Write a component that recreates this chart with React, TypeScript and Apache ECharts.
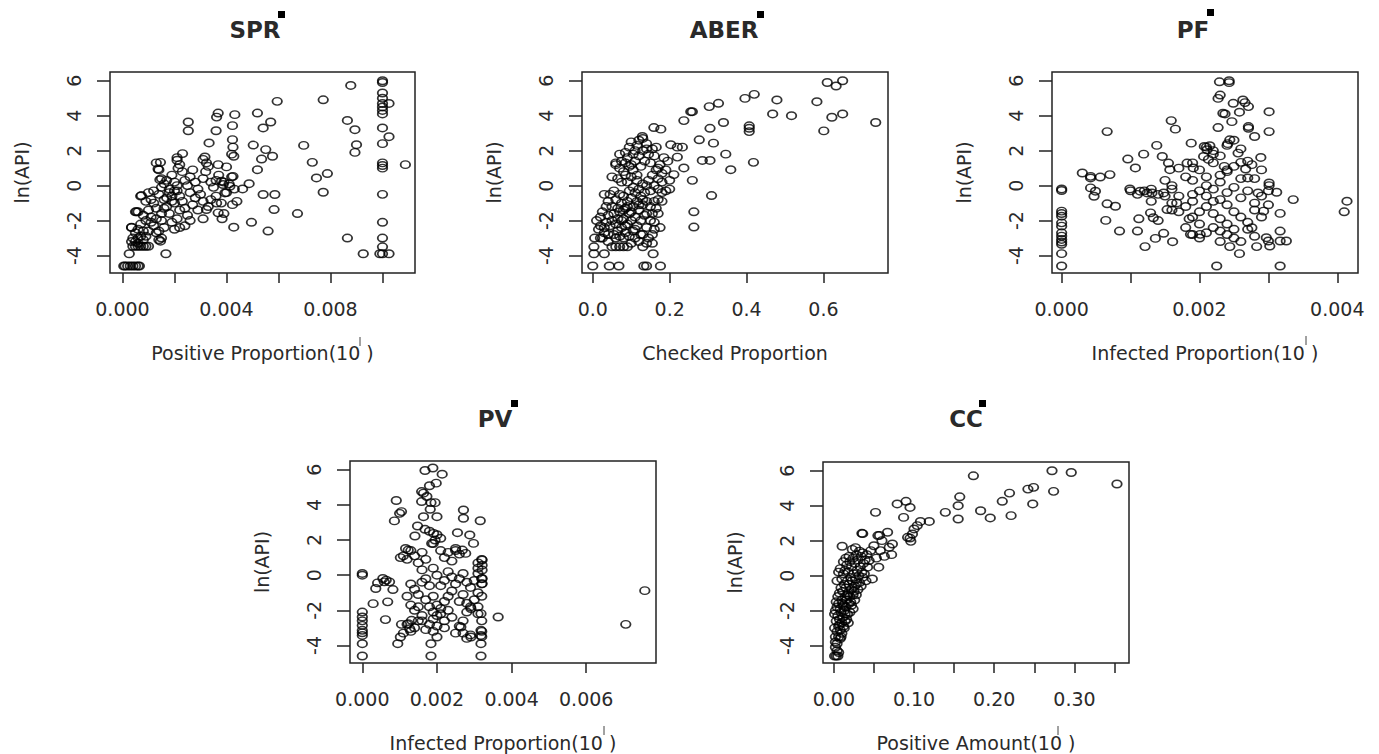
import React, { useEffect, useRef } from 'react';
import * as echarts from 'echarts';

const FONT = '"DejaVu Sans", "Liberation Sans", sans-serif';

const titles = ['SPR', 'ABER', 'PF', 'PV', 'CC'];
const xAxisTitles = [
  'Positive Proportion(10 )',
  'Checked Proportion',
  'Infected Proportion(10 )',
  'Infected Proportion(10 )',
  'Positive Amount(10 )',
];
const yAxisTitle = 'ln(API)';
const yTicks = [-4, -2, 0, 2, 4, 6];
const xTicks = [
  [0, 0.002, 0.004, 0.006, 0.008, 0.01],
  [0, 0.2, 0.4, 0.6],
  [0, 0.001, 0.002, 0.003, 0.004],
  [0, 0.002, 0.004, 0.006],
  [0, 0.05, 0.1, 0.15, 0.2, 0.25, 0.3, 0.35],
];
const xTickLabels = [
  [0, 0.004, 0.008],
  [0, 0.2, 0.4, 0.6],
  [0, 0.002, 0.004],
  [0, 0.002, 0.004, 0.006],
  [0, 0.1, 0.2, 0.3],
];
const xDecimals = [3, 1, 3, 3, 2];

const sprData = [
  [0.01, 6.0], [0.01, 5.9], [0.01, 5.3], [0.01, 5.0], [0.01, 4.7], [0.01, 4.5], [0.01, 4.3], [0.01, 4.1],
  [0.01, 3.3], [0.01, 2.4], [0.01, 1.3], [0.01, 1.15], [0.01, 1.0], [0.01, -0.5], [0.01, -2.1], [0.01, -3.0],
  [0.01, -3.5], [0.01, -3.9], [0.01025, 4.7], [0.01025, 2.8], [0.01025, -3.9], [0.0099, -3.9],
  [0.01088, 1.2], [0.00878, 5.73], [0.00865, 3.73], [0.00894, 3.2], [0.009, 2.34], [0.00894, 1.9],
  [0.00865, -3.0], [0.00926, -3.9], [0.00772, 4.91], [0.00697, 2.3], [0.0073, 1.33], [0.00746, 0.44],
  [0.00788, 0.69], [0.00772, -0.38], [0.00673, -1.6],
  [0.00595, 4.82], [0.00519, 4.15], [0.0057, 3.64], [0.00541, 3.3], [0.00503, 2.32], [0.00551, 2.06],
  [0.00577, 1.68], [0.00535, 1.52], [0.00519, 0.91], [0.00487, 0.11], [0.00462, -0.19], [0.00541, -0.51],
  [0.00586, -0.51], [0.00583, -1.37], [0.00496, -2.1], [0.0056, -2.6],
  [0.00432, 4.06], [0.00423, 3.43], [0.00423, 2.63], [0.00425, 2.2], [0.00428, 1.68], [0.0042, 1.8],
  [0.00425, 0.53], [0.00423, -1.09], [0.00428, -2.38],
  [0.00368, 4.15], [0.00362, 3.92], [0.0036, 3.14], [0.00333, 2.44], [0.00317, 1.64], [0.00323, 1.3],
  [0.00368, 1.2], [0.004, 1.07], [0.00381, 0.25], [0.00387, 0.06], [0.00413, -0.04], [0.00394, -0.42],
  [0.00362, -1.0], [0.00368, -1.56], [0.00383, -1.9], [0.0031, -1.9], [0.00323, -1.37],
  [0.00253, 3.64], [0.00253, 3.14], [0.00231, 1.83], [0.0021, 1.45], [0.00146, 1.33], [0.00137, 0.95],
  [0.00214, 1.0], [0.00144, 0.34], [0.00073, -0.57], [0.00054, -1.5], [0.00035, -2.38], [0.00026, -3.9],
  [0.00167, -3.9], [0.00146, -3.18],
  [0.0001, -4.6], [0.0002, -4.6], [0.0003, -4.6], [0.0004, -4.6], [0.0005, -4.6], [0.0006, -4.6], [0.00065, -4.6], [0.00005, -4.6],
  [0.0004, -3.47], [0.0005, -3.47], [0.0006, -3.47], [0.0007, -3.47], [0.0008, -3.47], [0.0009, -3.47], [0.001, -3.47],
  [0.00035, -3.2], [0.0004, -3.0], [0.0005, -3.2], [0.0006, -3.0], [0.0007, -2.9], [0.0005, -2.7], [0.00035, -2.4],
  [0.0006, -2.5], [0.0008, -2.6], [0.0007, -2.2], [0.0009, -2.0], [0.0006, -1.5], [0.0005, -1.5], [0.0008, -1.7],
  [0.001, -1.4], [0.0011, -1.8], [0.0012, -2.3], [0.0013, -2.7], [0.0014, -3.1], [0.0015, -3.0], [0.0014, -2.6],
  [0.0016, -2.4], [0.0015, -2.0], [0.0013, -1.3], [0.0012, -1.0], [0.0011, -0.8], [0.0009, -0.9], [0.0007, -0.6],
  [0.001, -0.4], [0.0012, -0.3], [0.0014, -0.5], [0.0016, -0.8], [0.0017, -1.2], [0.0018, -1.6], [0.0019, -2.1],
  [0.002, -2.5], [0.0021, -1.9], [0.0022, -1.4], [0.002, -1.0], [0.0019, -0.6], [0.0018, -0.2], [0.0016, 0.1],
  [0.0015, 0.4], [0.0014, 0.9], [0.0013, 1.3], [0.0015, -0.1], [0.0017, 0.3], [0.0019, 0.6], [0.002, 0.2],
  [0.0021, -0.3], [0.0022, -0.6], [0.0023, -0.9], [0.0024, -1.3], [0.0025, -1.7], [0.0026, -2.0], [0.0024, -2.3],
  [0.0022, -2.4], [0.0027, -1.1], [0.0028, -0.7], [0.0026, -0.4], [0.0025, 0.0], [0.0024, 0.3], [0.0023, 0.8],
  [0.0022, 1.2], [0.0021, 1.6], [0.0026, 0.5], [0.0027, 0.9], [0.0028, 0.2], [0.0029, -0.2], [0.003, -0.5],
  [0.0031, -0.9], [0.0029, -1.4], [0.0031, 0.4], [0.0032, 0.8], [0.0033, 1.1], [0.0031, 1.5], [0.0034, 0.2],
  [0.0035, -0.1], [0.0036, 0.3], [0.0037, 0.6], [0.0036, -0.6], [0.0034, -0.8], [0.0033, -1.2], [0.0038, -1.0],
  [0.0039, -1.6], [0.004, -0.4], [0.0041, 0.1], [0.0042, 0.5], [0.0043, -0.2], [0.0044, -0.9], [0.0039, 0.2],
  [0.0018, -0.4], [0.0019, -0.9], [0.002, -0.3], [0.0021, 0.0], [0.0017, -0.7], [0.0016, -1.3], [0.0015, -1.6],
  [0.0013, -1.9], [0.0011, -2.1], [0.001, -2.6], [0.0009, -2.9], [0.0008, -3.1], [0.0006, -3.3],
];

const aberData = [
  [0.61, 5.9], [0.633, 5.7], [0.65, 6.0], [0.583, 4.8], [0.622, 3.91], [0.65, 4.1], [0.601, 3.13], [0.736, 3.61],
  [0.42, 5.22], [0.396, 4.99], [0.479, 4.9], [0.468, 4.1], [0.517, 4.0], [0.407, 3.42], [0.407, 3.28], [0.407, 3.09],
  [0.418, 1.33], [0.327, 4.71], [0.303, 4.52], [0.259, 4.23], [0.255, 4.23], [0.237, 3.72], [0.34, 3.61],
  [0.305, 3.28], [0.277, 2.62], [0.314, 2.43], [0.346, 1.8], [0.359, 0.91], [0.285, 1.44], [0.305, 1.44],
  [0.259, 0.3], [0.263, -1.5], [0.263, -2.37], [0.309, -0.57], [0.237, 1.01], [0.211, 0.63], [0.22, 1.63],
  [0.233, 2.2], [0.203, 2.34], [0.22, 2.2], [0.159, 3.32], [0.177, 3.23], [0.129, 2.81],
  [0.0, -4.6], [0.043, -4.6], [0.068, -4.6], [0.133, -4.6], [0.14, -4.6], [0.176, -4.6],
  [0.003, -3.9], [0.03, -3.9], [0.157, -3.9], [0.005, -3.0], [0.02, -3.0], [0.003, -3.5], [0.01, -2.0],
  [0.02, -1.8], [0.015, -2.5], [0.03, -2.7], [0.04, -3.2], [0.05, -3.5], [0.06, -3.5], [0.07, -3.5], [0.08, -3.5],
  [0.09, -3.5], [0.1, -3.3], [0.11, -3.0], [0.12, -3.2], [0.13, -2.8], [0.145, -3.0], [0.155, -2.8], [0.16, -2.5],
  [0.15, -2.0], [0.14, -1.6], [0.165, -1.3], [0.17, -0.8], [0.18, -0.4], [0.19, -0.3], [0.2, 0.3], [0.2, -0.2],
  [0.025, -1.5], [0.035, -2.1], [0.04, -1.7], [0.045, -2.3], [0.05, -2.0], [0.055, -1.6], [0.06, -2.2],
  [0.065, -2.6], [0.07, -2.9], [0.075, -2.4], [0.08, -1.9], [0.085, -2.7], [0.09, -2.2], [0.095, -1.6], [0.1, -2.0],
  [0.105, -2.6], [0.11, -1.8], [0.115, -2.3], [0.12, -1.4], [0.125, -2.0], [0.13, -1.1], [0.135, -1.7],
  [0.05, -1.2], [0.06, -0.8], [0.065, -1.3], [0.07, -0.5], [0.075, -1.0], [0.08, -0.6], [0.085, -1.3], [0.09, -0.9],
  [0.095, -0.3], [0.1, -0.7], [0.105, -1.2], [0.11, -0.4], [0.115, -0.9], [0.12, -0.2], [0.125, -0.6], [0.13, 0.1],
  [0.135, -0.4], [0.14, -0.9], [0.145, 0.3], [0.15, -0.3], [0.155, 0.6], [0.16, 0.0], [0.165, 0.9], [0.17, 0.4],
  [0.175, 1.2], [0.18, 0.7], [0.185, 1.6], [0.09, 0.2], [0.1, 0.5], [0.08, 0.8], [0.07, 1.0], [0.06, 1.2],
  [0.065, 0.4], [0.075, 0.2], [0.085, 0.6], [0.095, 1.1], [0.105, 0.9], [0.11, 1.4], [0.115, 0.3], [0.12, 1.7],
  [0.125, 1.1], [0.13, 2.0], [0.135, 1.4], [0.14, 2.4], [0.145, 1.8], [0.15, 1.3], [0.155, 2.1], [0.16, 1.7],
  [0.165, 2.2], [0.17, 1.0], [0.11, 2.0], [0.1, 2.5], [0.105, 1.8], [0.09, 1.6], [0.055, -0.3], [0.045, -0.5],
  [0.04, -0.9], [0.05, 0.5], [0.03, -0.5], [0.035, -1.2], [0.02, -2.3], [0.03, -2.4], [0.025, -3.0], [0.04, -2.8],
  [0.055, -2.8], [0.06, -3.0], [0.08, -3.0], [0.095, -2.9], [0.11, -2.5], [0.125, -2.8], [0.14, -2.4], [0.15, -1.2],
  [0.16, -0.9], [0.17, -0.2], [0.18, 0.2], [0.19, 0.9], [0.195, 1.4], [0.12, -1.1], [0.1, -1.5], [0.07, -1.5],
  [0.075, -2.0], [0.065, -1.9], [0.085, -2.3], [0.09, -1.2], [0.08, -1.4], [0.105, -0.1], [0.115, 0.6],
  [0.13, -0.8], [0.14, 0.0], [0.1, 1.2], [0.085, 1.3], [0.07, 1.8], [0.06, 1.3], [0.075, 1.4], [0.155, -1.6],
  [0.16, -2.1], [0.155, -3.3], [0.14, -3.3], [0.13, -3.5], [0.17, -1.6], [0.175, -2.4], [0.18, -0.9],
  [0.115, 2.3], [0.12, 2.6], [0.13, 2.7], [0.14, 2.1], [0.095, 2.2], [0.085, 1.9],
];

const pfData = [
  [0, -0.19], [0, -0.28], [0, -1.46], [0, -1.6], [0, -1.75], [0, -2.13], [0, -2.32], [0, -2.7], [0, -2.89],
  [0, -3.08], [0, -3.23], [0, -3.36], [0, -3.89], [0, -4.6],
  [0.0003, 0.72], [0.00042, 0.53], [0.00042, 0.44], [0.00042, -0.13], [0.00047, -0.61], [0.00049, -0.32],
  [0.00056, 0.49], [0.0007, 0.63], [0.00066, 3.09], [0.00066, -1.04], [0.00078, -1.18], [0.00064, -1.99],
  [0.00084, -2.6], [0.00096, 1.52], [0.00107, 1.01], [0.00099, -0.19], [0.00119, 1.8], [0.00112, -1.9],
  [0.0011, -2.6], [0.00121, -3.49], [0.00114, -0.32], [0.00124, -0.42], [0.00131, -0.42], [0.00129, -1.56],
  [0.00133, -1.84], [0.00138, 2.3], [0.00146, 1.67], [0.00155, 1.29], [0.00157, 0.91], [0.00159, 3.72],
  [0.00165, 3.23], [0.00136, -3.02], [0.00148, -2.73], [0.00161, -3.21], [0.00148, -0.42], [0.00153, -1.37],
  [0.0016, 0], [0.00188, 2.43], [0.00182, 1.29], [0.00191, 1.01], [0.00187, -2.79], [0.00201, -2.79],
  [0.00185, -1.9], [0.00167, -0.99],
  [0.00229, 5.94], [0.00243, 6.0], [0.00243, 5.89], [0.0023, 5.18], [0.00227, 4.99], [0.00234, 4.14],
  [0.00237, 4.1], [0.00249, 4.71], [0.00247, 3.66], [0.00258, 4.2], [0.00263, 4.9], [0.00266, 4.75],
  [0.00271, 4.52], [0.00271, 3.38], [0.00271, 3.28], [0.0028, 2.81], [0.00227, 3.32],
  [0.00301, 4.23], [0.00301, 3.09], [0.00301, 0.15], [0.00301, 0], [0.00312, -0.38], [0.00336, -0.8],
  [0.00317, -1.59], [0.00317, -2.6], [0.00297, -2.98], [0.003, -3.17], [0.00302, -3.46], [0.00317, -3.17],
  [0.00326, -3.17], [0.00317, -4.6], [0.00225, -4.6], [0.00258, -3.89], [0.00244, -3.49], [0.00283, -3.49],
  [0.00289, 1.61], [0.00276, 1.2], [0.0027, 0.44], [0.0026, 1.33], [0.00276, -2.41], [0.00293, -1.46],
  [0.00285, -0.42], [0.00414, -0.89], [0.0041, -1.5],
  [0.00215, 2.28], [0.00207, 2.24], [0.00211, 2.05], [0.00244, 2.62], [0.00241, 2.4], [0.00206, 1.67],
  [0.00213, 1.5], [0.0022, 1.8], [0.00236, 1.1], [0.0024, 0.9], [0.00256, 1.86], [0.00267, 0.95],
  [0.0019, -0.5], [0.002, -0.3], [0.0021, -0.6], [0.0022, -0.2], [0.0023, -0.8], [0.0024, -0.4], [0.0025, -0.1],
  [0.0026, -0.7], [0.0027, -0.3], [0.0028, -1.0], [0.0019, 0.3], [0.002, 0.9], [0.0021, 0.5], [0.0022, 1.3],
  [0.0023, 0.2], [0.0024, 0.8], [0.0025, 1.1], [0.0026, 0.4], [0.0027, 1.4], [0.0021, 2.2], [0.0022, 2.0],
  [0.0023, 1.7], [0.0024, 2.3], [0.0025, 2.6], [0.0026, 2.1], [0.0021, -1.2], [0.0022, -1.6], [0.0023, -1.9],
  [0.0024, -2.2], [0.0025, -1.5], [0.0026, -1.8], [0.0027, -2.1], [0.0022, -2.4], [0.0023, -2.6], [0.0024, -2.8],
  [0.0025, -2.5], [0.0021, -2.7], [0.002, -2.2], [0.0019, -1.8], [0.0018, -1.2], [0.0017, -0.6], [0.0016, -0.2],
  [0.0015, 0.3], [0.0016, -1.0], [0.0017, -1.5], [0.0018, 0.5], [0.0017, 1.0], [0.0019, 1.3], [0.0014, -0.5],
  [0.0013, -0.9], [0.0012, -0.3], [0.0011, -0.5], [0.001, -0.3], [0.0013, -0.2], [0.0015, -0.6], [0.0016, -1.4],
  [0.0014, -2.0], [0.0018, -2.4], [0.0019, -2.8], [0.002, -1.5], [0.0028, -1.4], [0.0029, -0.6], [0.003, -1.1],
  [0.0029, -1.8], [0.003, -0.3], [0.0028, 0.4], [0.0029, 0.9], [0.0027, -2.5], [0.0028, -2.9], [0.0026, -3.2],
  [0.0025, -3.0], [0.0023, -3.2], [0.002, -3.0], [0.0019, -0.9], [0.0024, -1.1], [0.0022, -0.9], [0.0023, 0.6],
  [0.0021, 0.0],
];

const pvData = [
  [0, 0.1], [0, 0], [0, -2.1], [0, -2.38], [0, -2.6], [0, -2.86], [0, -3.14], [0, -3.28], [0, -3.43], [0, -3.9], [0, -4.6],
  [0.00041, -0.44], [0.00059, -0.38], [0.00055, -0.19], [0.00073, -0.38], [0.00064, -0.28], [0.00082, -0.82],
  [0.00036, -0.76], [0.00029, -1.62], [0.00068, -1.52], [0.00062, -2.53], [0.00105, -2.8], [0.00095, -3.9],
  [0.00102, -3.52], [0.00091, 4.25], [0.00105, 3.62], [0.001, 3.52], [0.00086, 3.09], [0.00102, 1.0],
  [0.00116, 1.52], [0.00123, 1.43],
  [0.00168, 5.96], [0.00189, 6.1], [0.00214, 5.75], [0.00198, 5.24], [0.0018, 5.09], [0.00159, 4.76],
  [0.00164, 4.67], [0.00159, 4.19], [0.00173, 4.48], [0.00184, 4.13], [0.00195, 4.13], [0.00182, 3.75],
  [0.002, 3.33], [0.00164, 3.33], [0.00148, 2.8], [0.00168, 2.61], [0.00141, 2.23], [0.00191, 2.38],
  [0.00195, 2.0], [0.00186, 1.81],
  [0.00255, 2.42], [0.00271, 3.71], [0.00271, 3.24], [0.00316, 3.1], [0.00288, 2.29], [0.00298, 1.81],
  [0.0025, 1.52], [0.00268, 1.43], [0.00277, 1.24], [0.00321, 0.86], [0.00321, 0.57], [0.00321, 0.29],
  [0.00321, -0.19], [0.00321, -0.48], [0.00364, -2.38], [0.00318, -2.19], [0.00291, -1.9], [0.00318, -3.14],
  [0.00318, -3.43], [0.00318, -3.9], [0.00318, -4.6], [0.00184, -4.6], [0.00184, -3.9], [0.002, -3.52],
  [0.00291, -3.52], [0.00264, -2.95], [0.00132, -2.57], [0.00123, -2.76], [0.00127, -3.05],
  [0.00706, -2.8], [0.00757, -0.88],
  [0.0013, -0.5], [0.0014, -0.8], [0.0015, -1.1], [0.0016, -0.4], [0.0017, -1.4], [0.0018, -1.8], [0.0019, -2.1],
  [0.002, -2.3], [0.0021, -1.9], [0.0022, -1.5], [0.0019, -1.2], [0.0018, -0.6], [0.0017, -0.2], [0.0016, 0.3],
  [0.0015, 0.7], [0.0014, 1.1], [0.0013, 1.4], [0.0012, 0.9], [0.0011, 1.1], [0.0019, 0.4], [0.002, 0.0],
  [0.0021, -0.6], [0.0022, -0.3], [0.0023, 0.2], [0.0024, -0.1], [0.0025, -0.5], [0.0026, -0.2], [0.0027, 0.1],
  [0.0028, -0.4], [0.0029, -0.7], [0.003, -0.3], [0.0031, 0.1], [0.0032, -0.2], [0.0032, -0.5], [0.0031, -1.0],
  [0.003, -1.4], [0.0029, -1.8], [0.0028, -2.1], [0.0027, -2.6], [0.0026, -2.9], [0.0025, -3.3], [0.0024, -2.4],
  [0.0023, -2.0], [0.0022, -2.6], [0.0021, -2.2], [0.002, -1.7], [0.0019, -2.5], [0.0018, -2.8], [0.0017, -3.1],
  [0.0016, -2.3], [0.0015, -2.6], [0.0014, -3.0], [0.0013, -3.2], [0.0012, -2.8], [0.0011, -3.3], [0.0013, -1.7],
  [0.0012, -1.2], [0.0014, -2.0], [0.0021, 1.4], [0.0022, 1.0], [0.0023, 1.3], [0.0024, 0.8], [0.0025, 1.4],
  [0.0026, 1.2], [0.002, 2.3], [0.0021, 2.1], [0.0019, 1.8], [0.0018, 2.5], [0.0031, 0.7], [0.0031, 0.4],
  [0.0032, 0.9], [0.0032, -1.2], [0.0031, -1.8], [0.0032, -2.6], [0.0032, -3.2], [0.0032, -3.5], [0.0031, -2.2],
  [0.0029, -3.4], [0.0028, -3.6], [0.0027, -3.3], [0.0024, -0.9], [0.0023, -1.2], [0.0026, -1.5], [0.0027, -1.1],
  [0.0028, -1.6], [0.0017, 0.9], [0.0016, 1.3], [0.0015, -1.8], [0.0016, -2.6], [0.0022, -3.0], [0.002, -2.9],
  [0.0019, -3.2],
];

const ccData = [
  [0.353, 5.24], [0.272, 6.0], [0.296, 5.9], [0.274, 4.82], [0.249, 5.05], [0.242, 4.95], [0.248, 4.1],
  [0.219, 4.72], [0.21, 4.25], [0.221, 3.43], [0.195, 3.3], [0.183, 3.71], [0.174, 5.71], [0.157, 4.51],
  [0.155, 4.0], [0.155, 3.24], [0.139, 3.62], [0.119, 3.1], [0.108, 3.1], [0.104, 2.86], [0.1, 2.67],
  [0.098, 2.38], [0.095, 2.15], [0.096, 1.96], [0.092, 2.19], [0.087, 3.33], [0.095, 3.9], [0.09, 4.25],
  [0.079, 4.1], [0.052, 3.62],
  [0.035, 2.42], [0.055, 2.29], [0.067, 2.48], [0.06, 2.0], [0.073, 1.81], [0.069, 1.62], [0.072, 1.2],
  [0.058, 1.43], [0.05, 1.71], [0.046, 1.43], [0.056, 0.48], [0.048, -0.19], [0.042, 0.48], [0.044, 0.86],
  [0.0104, 1.68], [0.036, 2.4], [0.057, 2.3], [0.063, 1.1], [0.053, 1.0],
  [0.001, -4.6], [0.003, -4.6], [0.005, -4.6], [0.002, -4.1], [0.004, -3.9], [0.006, -4.4], [0.008, -3.6],
  [0.002, -3.5], [0.001, -3.0], [0.004, -3.2], [0.006, -2.9], [0.008, -3.1], [0.01, -3.3], [0.012, -2.9],
  [0.014, -2.6], [0.003, -2.6], [0.005, -2.3], [0.007, -2.5], [0.009, -2.1], [0.011, -2.4], [0.013, -2.0],
  [0.015, -1.8], [0.017, -2.2], [0.019, -1.6], [0.002, -2.0], [0.004, -1.8], [0.006, -1.6], [0.008, -1.9],
  [0.01, -1.4], [0.012, -1.7], [0.014, -1.2], [0.016, -1.4], [0.018, -1.0], [0.02, -1.2], [0.022, -0.8],
  [0.024, -1.1], [0.026, -0.6], [0.005, -1.2], [0.007, -1.0], [0.009, -0.7], [0.011, -0.9], [0.013, -0.5],
  [0.015, -0.7], [0.017, -0.3], [0.019, -0.5], [0.021, -0.1], [0.023, -0.3], [0.025, 0.1], [0.027, -0.2],
  [0.029, 0.3], [0.031, 0.0], [0.033, 0.5], [0.035, 0.2], [0.037, 0.7], [0.039, 0.9], [0.041, 1.2],
  [0.004, -0.3], [0.006, 0.2], [0.008, 0.4], [0.01, -0.2], [0.012, 0.1], [0.014, 0.3], [0.016, 0.6],
  [0.018, 0.2], [0.02, 0.8], [0.022, 0.5], [0.024, 1.0], [0.026, 0.7], [0.028, 1.2], [0.03, 0.9], [0.032, 1.4],
  [0.034, 1.1], [0.036, 1.3], [0.019, 1.1], [0.023, 1.5], [0.027, 1.6], [0.015, 1.0], [0.012, 0.8],
  [0.003, -1.5], [0.001, -2.2], [0.007, -2.8], [0.009, -3.5], [0.011, -1.6], [0.013, -3.0], [0.016, -2.5],
  [0.018, -2.7], [0.02, -2.1], [0.022, -1.7], [0.024, -1.9], [0.026, -1.4], [0.028, -1.1], [0.03, -0.8],
  [0.032, -0.4], [0.034, -0.6], [0.036, -0.1], [0.038, 0.1], [0.04, -0.3], [0.028, -0.5], [0.025, -0.9],
  [0.021, -1.5], [0.017, -1.1], [0.014, -2.2], [0.01, -2.7], [0.006, -3.5], [0.004, -4.3], [0.002, -3.8],
];

const panelData = [sprData, aberData, pfData, pvData, ccData];

const layout = [
  { left: 110, top: 72, width: 305, height: 201, xMin: -0.00048, xMax: 0.01125, tx: 255, ty: 18 },
  { left: 582, top: 72, width: 306, height: 201, xMin: -0.028, xMax: 0.768, tx: 724, ty: 18 },
  { left: 1052, top: 72, width: 306, height: 201, xMin: -0.00014, xMax: 0.0043, tx: 1193, ty: 18 },
  { left: 350, top: 461, width: 306, height: 202, xMin: -0.00033, xMax: 0.00787, tx: 495, ty: 407 },
  { left: 823, top: 462, width: 306, height: 201, xMin: -0.0135, xMax: 0.368, tx: 966, ty: 407 },
];
const squares = [[278, 11], [757, 11], [1207, 9], [511, 400], [979, 400]];
const marks = [[360, 337], [1306, 336], [604, 726], [1058, 726]];

const ELLIPSE = 'path://M0,5A5,5,0,1,1,10,5A5,5,0,1,1,0,5Z';
const TEXT = '#2a2a2a';

export default function App() {
  const ref = useRef<HTMLDivElement>(null);
  useEffect(() => {
    if (!ref.current) return;
    const chart = echarts.init(ref.current, undefined, { renderer: 'svg' });
    const option: any = {
      animation: false,
      backgroundColor: '#ffffff',
      title: titles.map((t, i) => ({
        text: t,
        left: layout[i].tx,
        top: layout[i].ty,
        textAlign: 'center',
        padding: 0,
        textStyle: { fontFamily: FONT, fontSize: 23, fontWeight: 'bold', color: TEXT },
      })),
      grid: layout.map((l) => ({
        left: l.left, top: l.top, width: l.width, height: l.height,
        show: true, borderColor: '#222', borderWidth: 1.5, backgroundColor: 'transparent',
        containLabel: false,
      })),
      xAxis: layout.map((l, i) => ({
        gridIndex: i,
        type: 'value',
        min: l.xMin,
        max: l.xMax,
        axisLine: { show: false, onZero: false },
        splitLine: { show: false },
        axisTick: { show: true, length: 10, customValues: xTicks[i], lineStyle: { color: '#222', width: 1.5 } },
        axisLabel: {
          customValues: xTickLabels[i],
          formatter: (v: number) => v.toFixed(xDecimals[i]),
          fontFamily: FONT, fontSize: 19, color: TEXT, margin: 26,
        },
        name: xAxisTitles[i],
        nameLocation: 'middle',
        nameGap: 70,
        nameTextStyle: { fontFamily: FONT, fontSize: 19, color: TEXT },
      })),
      yAxis: layout.map((l, i) => ({
        gridIndex: i,
        type: 'value',
        min: -5,
        max: 6.5,
        axisLine: { show: false, onZero: false },
        splitLine: { show: false },
        axisTick: { show: true, length: 13, customValues: yTicks, lineStyle: { color: '#222', width: 1.5 } },
        axisLabel: {
          customValues: yTicks,
          rotate: 90,
          fontFamily: FONT, fontSize: 19, color: TEXT, margin: 27,
        },
        name: yAxisTitle,
        nameLocation: 'middle',
        nameGap: 79,
        nameRotate: 90,
        nameTextStyle: { fontFamily: FONT, fontSize: 19, color: TEXT },
      })),
      series: panelData.map((d, i) => ({
        type: 'scatter',
        xAxisIndex: i,
        yAxisIndex: i,
        data: d,
        symbol: ELLIPSE,
        symbolSize: [9.5, 7.5],
        silent: true,
        itemStyle: { color: 'rgba(0,0,0,0)', borderColor: '#000', borderWidth: 1.6 },
      })),
      graphic: [
        ...squares.map(([x, y]) => ({ type: 'rect', shape: { x, y, width: 7, height: 7 }, style: { fill: '#000' } })),
        ...marks.map(([x, y]) => ({ type: 'line', shape: { x1: x, y1: y, x2: x, y2: y + 9 }, style: { stroke: '#444', lineWidth: 1 } })),
      ],
    };
    chart.setOption(option);
    return () => chart.dispose();
  }, []);
  return (
    <div
      ref={ref}
      style={{ position: 'fixed', left: 0, top: 0, width: 1379, height: 754, background: '#fff' }}
    />
  );
}
